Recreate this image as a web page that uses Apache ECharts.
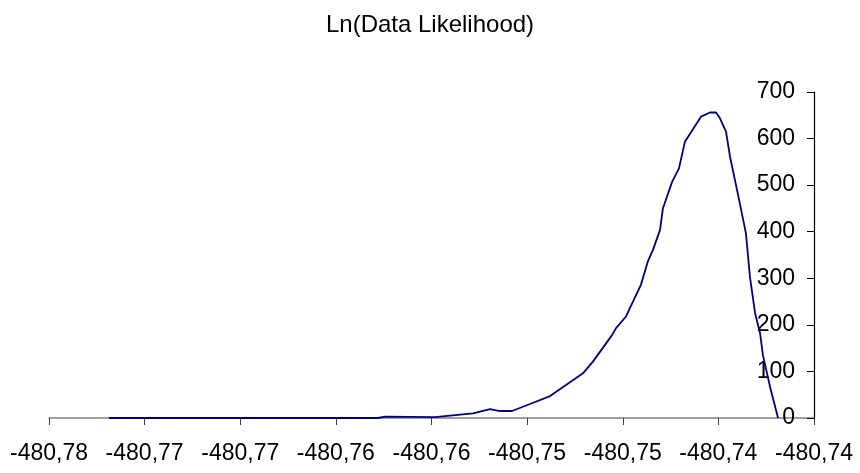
<!DOCTYPE html>
<html>
<head>
<meta charset="utf-8">
<script src="https://cdn.jsdelivr.net/npm/echarts@6/dist/echarts.min.js"></script>
<style>
html,body{margin:0;padding:0;background:#fff;}
#chart{width:860px;height:473px;}
</style>
</head>
<body>
<div id="chart"></div>
<script>
var titleText = 'Ln(Data Likelihood)';
var xTickLabels = ['-480,78','-480,77','-480,77','-480,76','-480,76','-480,75','-480,75','-480,74','-480,74'];
var xMin = -480.78, xMax = -480.74, xStep = 0.005;
var yTickMin = 0, yTickMax = 700, yStep = 100;

var lnLikelihood = [
  -480.77686, -480.76280, -480.76243, -480.75982, -480.75783, -480.75694, -480.75642,
  -480.75579, -480.75485, -480.75380, -480.75208, -480.75156, -480.75056, -480.75035,
  -480.74983, -480.74905, -480.74868, -480.74842, -480.74805, -480.74790, -480.74742,
  -480.74706, -480.74675, -480.74591, -480.74544, -480.74512, -480.74491, -480.74460,
  -480.74439, -480.74397, -480.74356, -480.74335, -480.74308, -480.74282, -480.74267,
  -480.74230, -480.74188
];
var frequency = [
  0, 0, 3, 2, 10, 19, 15,
  15, 30, 47, 96, 121, 178, 193,
  218, 286, 337, 361, 404, 450, 507,
  536, 593, 647, 656, 656, 643, 615,
  561, 479, 397, 303, 225, 182, 135,
  67, 0
];

var seriesData = lnLikelihood.map(function (x, i) { return [x, frequency[i]]; });

var chart = echarts.init(document.getElementById('chart'));
chart.setOption({
  animation: false,
  backgroundColor: '#ffffff',
  title: {
    text: titleText,
    left: 'center',
    top: 8,
    textStyle: { fontFamily: 'Liberation Sans, Arial, sans-serif', fontSize: 24, fontWeight: 'normal', color: '#000' }
  },
  grid: { left: 49, right: 46, top: 92, bottom: 55, containLabel: false },
  xAxis: {
    type: 'value',
    min: xMin, max: xMax, interval: xStep,
    axisLine: { show: true, onZero: false, lineStyle: { color: '#808080', width: 1.5 } },
    axisTick: { show: true, length: 7, lineStyle: { color: '#404040', width: 1 } },
    splitLine: { show: false },
    axisLabel: {
      margin: 24,
      fontFamily: 'Liberation Sans, Arial, sans-serif', fontSize: 23, color: '#000',
      showMinLabel: true, showMaxLabel: true,
      formatter: function (v) {
        var idx = Math.round((v - xMin) / xStep);
        return xTickLabels[idx] !== undefined ? xTickLabels[idx] : '';
      }
    }
  },
  yAxis: {
    type: 'value',
    position: 'right',
    min: yTickMin, max: yTickMax, interval: yStep,
    axisLine: { show: true, lineStyle: { color: '#000', width: 1.2 } },
    axisTick: { show: true, inside: true, length: 7, lineStyle: { color: '#000', width: 1 } },
    splitLine: { show: false },
    axisLabel: {
      inside: true, margin: 19,
      fontFamily: 'Liberation Sans, Arial, sans-serif', fontSize: 23, color: '#000'
    }
  },
  series: [{
    type: 'line',
    data: seriesData,
    showSymbol: false,
    symbol: 'none',
    smooth: false,
    lineStyle: { color: '#000080', width: 1.8 },
    z: 3
  }]
});
</script>
</body>
</html>
